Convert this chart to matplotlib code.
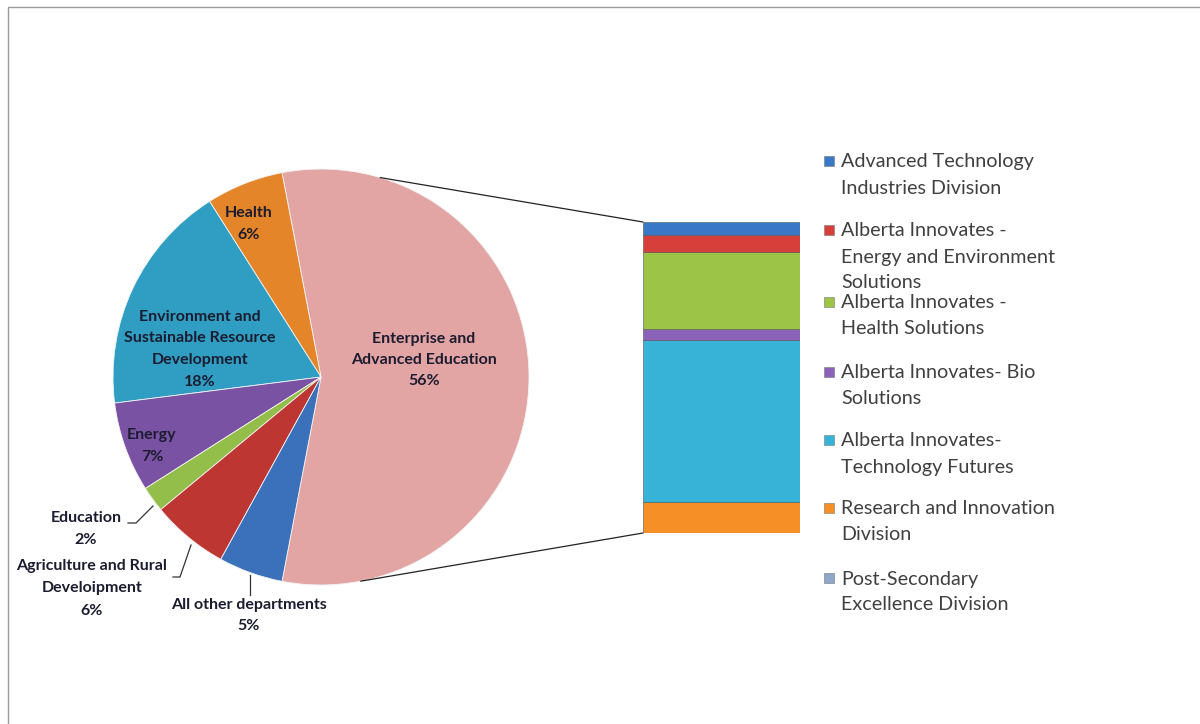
import matplotlib
matplotlib.use("Agg")
import matplotlib.pyplot as plt
from matplotlib.patches import Rectangle, ConnectionPatch
from matplotlib.lines import Line2D
import numpy as np

# ---------------- data ----------------
pie_labels = ["Enterprise and\nAdvanced Education", "Health",
              "Environment and\nSustainable Resource\nDevelopment", "Energy",
              "Education", "Agriculture and Rural\nDeveloipment", "All other departments"]
pie_values = [56, 6, 18, 7, 2, 6, 5]
pie_colors = ["#E3A4A4", "#E5852A", "#2F9EC2", "#7A52A3", "#93BE4A", "#BE3631", "#3B70BA"]

bar_labels = ["Advanced Technology\nIndustries Division",
              "Alberta Innovates -\nEnergy and Environment\nSolutions",
              "Alberta Innovates -\nHealth Solutions",
              "Alberta Innovates- Bio\nSolutions",
              "Alberta Innovates-\nTechnology Futures",
              "Research and Innovation\nDivision",
              "Post-Secondary\nExcellence Division"]
bar_values = [4.3, 5.3, 24.8, 3.5, 52.0, 10.1, 0.0]
bar_colors = ["#3A77C6", "#D63F3A", "#9CC446", "#8A63B8", "#37B3D7", "#F68F26", "#8EA8CA"]

W, H = 1200, 724
FONT = "Lato"
plt.rcParams['font.family'] = [FONT, 'DejaVu Sans']

fig = plt.figure(figsize=(W / 100, H / 100), dpi=100)
fig.patch.set_facecolor("white")

def fx(x):
    return x / W

def fy(y):
    return 1 - y / H

# outer frame (right/bottom edges fall outside the image)
fig.patches.append(Rectangle((fx(8), fy(734)), fx(1210) - fx(8), fy(7) - fy(734),
                             transform=fig.transFigure, fill=False,
                             edgecolor="#9a9a9a", linewidth=1.0))

# ---------------- pie ----------------
cx, cy, R, half = 321, 377, 208, 240
ax_pie = fig.add_axes([fx(cx - half), fy(cy + half), 2 * half / W, 2 * half / H])
start = -pie_values[0] / sum(pie_values) * 360 / 2
wedges, _ = ax_pie.pie(pie_values, colors=pie_colors, startangle=start,
                       counterclock=True, radius=1,
                       wedgeprops=dict(edgecolor="#f4f4f4", linewidth=0.6))
lim = half / R
ax_pie.set_xlim(-lim, lim)
ax_pie.set_ylim(-lim, lim)
ax_pie.set_aspect("auto")
ax_pie.axis("off")

# ---------------- bar ----------------
bx0, bx1, by0, by1 = 643, 800, 222, 533
ax_bar = fig.add_axes([fx(bx0), fy(by1), (bx1 - bx0) / W, (by1 - by0) / H])
bottom = 0.0
for v, c in zip(bar_values[::-1], bar_colors[::-1]):
    ax_bar.bar(0, v, bottom=bottom, width=1.0, color=c,
               edgecolor="#555555", linewidth=0.4)
    bottom += v
ax_bar.set_xlim(-0.5, 0.5)
ax_bar.set_ylim(0, sum(bar_values))
ax_bar.axis("off")

# connector lines
for ang, yb in [(73.5, 1.0), (-79.0, 0.0)]:
    a = np.deg2rad(ang)
    con = ConnectionPatch(xyA=(np.cos(a), np.sin(a)), coordsA="data", axesA=ax_pie,
                          xyB=(0, yb), coordsB="axes fraction", axesB=ax_bar,
                          color="#222222", linewidth=0.9)
    fig.add_artist(con)

# ---------------- pie labels ----------------
lab_col = "#1c1c30"
def pie_text(x, y, lines, bold=True):
    for i, (ly, t) in enumerate(zip(y, lines)):
        fig.text(fx(x), fy(ly), t, ha="center", va="center", fontsize=11.5,
                 color=lab_col, fontweight="bold" if bold else "normal")

pct = [f"{v}%" for v in pie_values]
pie_text(424, [339, 360, 381], pie_labels[0].split("\n") + [pct[0]])
pie_text(249, [213, 235], pie_labels[1].split("\n") + [pct[1]])
pie_text(200, [317, 338, 360, 382], pie_labels[2].split("\n") + [pct[2]])
pie_text(152, [435, 457], pie_labels[3].split("\n") + [pct[3]])
pie_text(86, [518, 540], pie_labels[4].split("\n") + [pct[4]])
pie_text(92, [566, 588, 611], pie_labels[5].split("\n") + [pct[5]])
pie_text(249, [605, 626], pie_labels[6].split("\n") + [pct[6]])

# leader lines
for xs, ys in [([128, 136, 153], [523, 523, 506]),
               ([173, 180, 191], [577, 577, 545]),
               ([250, 250], [575, 595])]:
    fig.add_artist(Line2D([fx(x) for x in xs], [fy(y) for y in ys],
                          transform=fig.transFigure, color="#333333", linewidth=0.9))

# ---------------- legend ----------------
entry_y = [161, 230, 302, 372, 440, 508, 578]
for lab, c, y0 in zip(bar_labels, bar_colors, entry_y):
    fig.patches.append(Rectangle((fx(824), fy(y0 + 5)), 10 / W, 10 / H,
                                 transform=fig.transFigure, facecolor=c,
                                 edgecolor="#777777", linewidth=0.4))
    for i, t in enumerate(lab.split("\n")):
        fig.text(fx(841), fy(y0 + 1 + i * 26), t, ha="left", va="center",
                 fontsize=14.2, color="#404040")

fig.savefig("out.png", dpi=100, facecolor="white")
